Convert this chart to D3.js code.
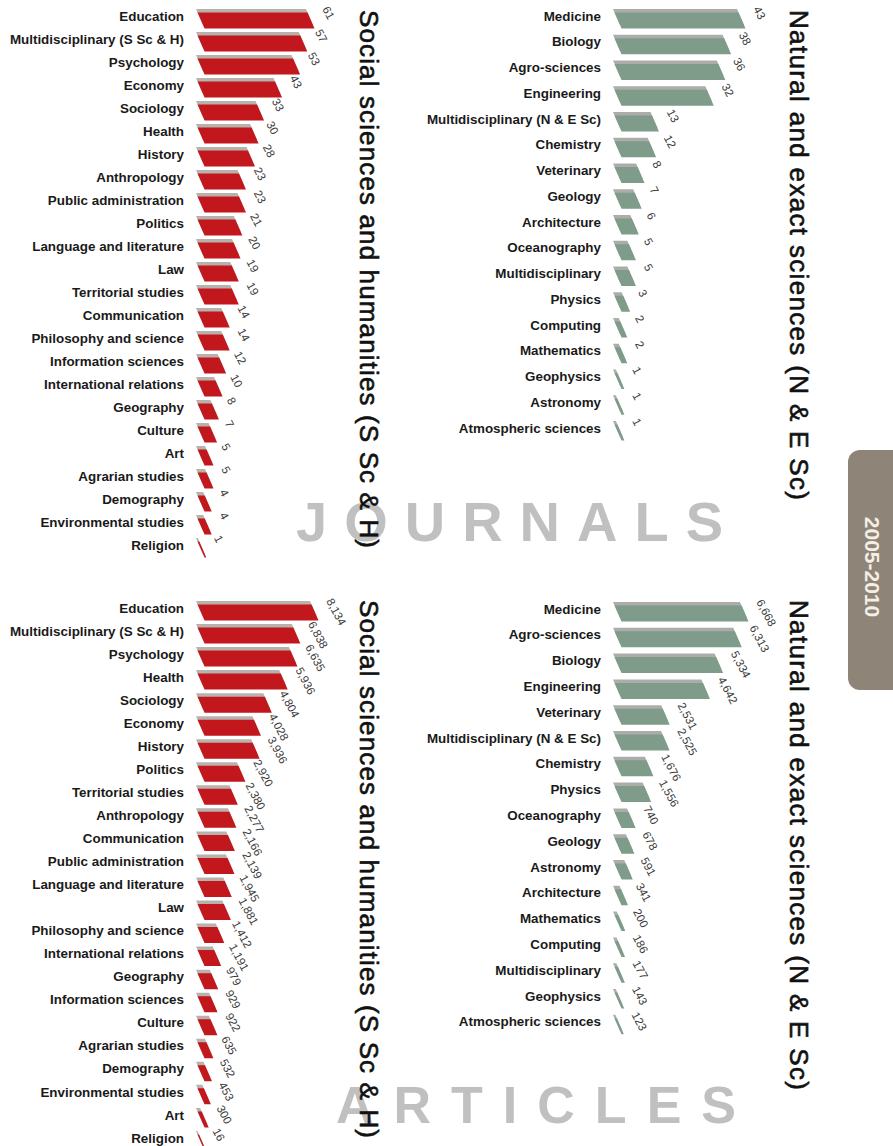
<!DOCTYPE html>
<html>
<head>
<meta charset="utf-8">
<script src="https://cdn.jsdelivr.net/npm/d3@7"></script>
<style>
  body { margin: 0; background: #fff; }
  svg { display: block; font-family: "Liberation Sans", Arial, sans-serif; }
</style>
</head>
<body>
<div id="chart"></div>
<script>
// journals, social sciences and humanities
const jSocCats = ["Education", "Multidisciplinary (S Sc & H)", "Psychology", "Economy", "Sociology", "Health",
  "History", "Anthropology", "Public administration", "Politics", "Language and literature", "Law",
  "Territorial studies", "Communication", "Philosophy and science", "Information sciences",
  "International relations", "Geography", "Culture", "Art", "Agrarian studies", "Demography",
  "Environmental studies", "Religion"];
const jSocVals = [61, 57, 53, 43, 33, 30, 28, 23, 23, 21, 20, 19, 19, 14, 14, 12, 10, 8, 7, 5, 5, 4, 4, 1];

// journals, natural and exact sciences
const jNatCats = ["Medicine", "Biology", "Agro-sciences", "Engineering", "Multidisciplinary (N & E Sc)",
  "Chemistry", "Veterinary", "Geology", "Architecture", "Oceanography", "Multidisciplinary", "Physics",
  "Computing", "Mathematics", "Geophysics", "Astronomy", "Atmospheric sciences"];
const jNatVals = [43, 38, 36, 32, 13, 12, 8, 7, 6, 5, 5, 3, 2, 2, 1, 1, 1];

// articles, social sciences and humanities
const aSocCats = ["Education", "Multidisciplinary (S Sc & H)", "Psychology", "Health", "Sociology", "Economy",
  "History", "Politics", "Territorial studies", "Anthropology", "Communication", "Public administration",
  "Language and literature", "Law", "Philosophy and science", "International relations", "Geography",
  "Information sciences", "Culture", "Agrarian studies", "Demography", "Environmental studies", "Art", "Religion"];
const aSocVals = [8134, 6838, 6635, 5936, 4804, 4028, 3936, 2920, 2380, 2277, 2166, 2139, 1945, 1881,
  1412, 1191, 979, 929, 922, 635, 532, 453, 300, 16];

// articles, natural and exact sciences
const aNatCats = ["Medicine", "Agro-sciences", "Biology", "Engineering", "Veterinary",
  "Multidisciplinary (N & E Sc)", "Chemistry", "Physics", "Oceanography", "Geology", "Astronomy",
  "Architecture", "Mathematics", "Computing", "Multidisciplinary", "Geophysics", "Atmospheric sciences"];
const aNatVals = [6668, 6313, 5334, 4642, 2531, 2525, 1676, 1556, 740, 678, 591, 341, 200, 186, 177, 143, 123];

const width = 893, height = 1146;

const svg = d3.select("#chart")
  .append("svg")
  .attr("width", width)
  .attr("height", height)
  .attr("viewBox", [0, 0, width, height]);

// big grey watermark words (drawn first, titles go over them)
svg.append("text")
  .attr("x", 518).attr("y", 541)
  .attr("text-anchor", "middle")
  .style("font-size", "56px").style("font-weight", "bold")
  .style("letter-spacing", "17px")
  .style("fill", "#c0c0c0")
  .text("JOURNALS");

svg.append("text")
  .attr("x", 546).attr("y", 1123)
  .attr("text-anchor", "middle")
  .style("font-size", "52px").style("font-weight", "bold")
  .style("letter-spacing", "20px")
  .style("fill", "#c0c0c0")
  .text("ARTICLES");

const panels = [
  {cats: jSocCats, vals: jSocVals, x0: 196, y0: 16, step: 23, maxW: 110, front: "#c1171d", back: "#b8b2ad", fmt: d3.format("d")},
  {cats: jNatCats, vals: jNatVals, x0: 613, y0: 16, step: 25.75, maxW: 124, front: "#7e9c89", back: "#acadab", fmt: d3.format("d")},
  {cats: aSocCats, vals: aSocVals, x0: 196, y0: 608, step: 23.04, maxW: 114, front: "#c1171d", back: "#b8b2ad", fmt: d3.format(",")},
  {cats: aNatCats, vals: aNatVals, x0: 613, y0: 609, step: 25.8, maxW: 127, front: "#7e9c89", back: "#acadab", fmt: d3.format(",")}
];

const slant = 7, barH = 16;

panels.forEach(p => {
  const data = p.cats.map((c, i) => ({cat: c, val: p.vals[i]}));
  const n = data.length;

  let x = d3.scaleLinear()
    .domain([0, d3.max(data, d => d.val)])
    .range([p.x0, p.x0 + p.maxW]);

  let y = d3.scaleBand()
    .domain(p.cats)
    .range([p.y0 - p.step / 2, p.y0 + (n - 0.5) * p.step]);

  const cy = d => y(d.cat) + y.bandwidth() / 2;

  const para = (x1, x2, top) =>
    `M${x1},${top}L${x2},${top}L${x2 + slant},${top + barH}L${x1 + slant},${top + barH}Z`;

  let g = svg.append("g");

  let bar = g.selectAll(".bar")
    .data(data)
    .join("g")
    .attr("class", "bar");

  bar.append("path") // grey back face
    .attr("fill", p.back)
    .attr("d", d => para(x(0), Math.max(x(d.val), x(0) + 1.5), cy(d) - 7));

  bar.append("path") // coloured front face
    .attr("fill", p.front)
    .attr("d", d => para(x(0) + 1.5, Math.max(x(d.val), x(0) + 1.5) + 1.5, cy(d) - 3.5));

  // category labels
  bar.append("text")
    .attr("x", p.x0 - 12)
    .attr("y", d => cy(d))
    .attr("dy", "0.35em")
    .attr("text-anchor", "end")
    .style("font-size", "13.4px")
    .style("font-weight", "bold")
    .style("fill", "#1a1a1a")
    .text(d => d.cat);

  // value labels, tilted
  bar.append("text")
    .attr("transform", d => `translate(${x(d.val) + 16},${cy(d) - 7}) rotate(62)`)
    .style("font-size", "11.5px")
    .style("fill", "#3a3a3a")
    .text(d => p.fmt(d.val));
});

// vertical titles
const titles = [
  {t: "Social sciences and humanities (S Sc & H)", x: 360, y: 10, len: 538},
  {t: "Natural and exact sciences (N & E Sc)", x: 790, y: 10, len: 490},
  {t: "Social sciences and humanities (S Sc & H)", x: 360, y: 600, len: 538},
  {t: "Natural and exact sciences (N & E Sc)", x: 790, y: 600, len: 490}
];

svg.selectAll(".title")
  .data(titles)
  .join("text")
  .attr("class", "title")
  .attr("transform", d => `translate(${d.x},${d.y}) rotate(90)`)
  .attr("textLength", d => d.len)
  .attr("lengthAdjust", "spacing")
  .style("font-size", "26px")
  .style("fill", "#111")
  .style("stroke", "#111")
  .style("stroke-width", "0.6px")
  .text(d => d.t);

// period tab at the right edge
svg.append("rect")
  .attr("x", 848).attr("y", 450)
  .attr("width", 70).attr("height", 240)
  .attr("rx", 12)
  .attr("fill", "#8e8477");

svg.append("text")
  .attr("transform", "translate(865,567) rotate(90)")
  .attr("text-anchor", "middle")
  .style("font-size", "21px")
  .style("font-weight", "bold")
  .style("fill", "#f4efe6")
  .text("2005-2010");
</script>
</body>
</html>
